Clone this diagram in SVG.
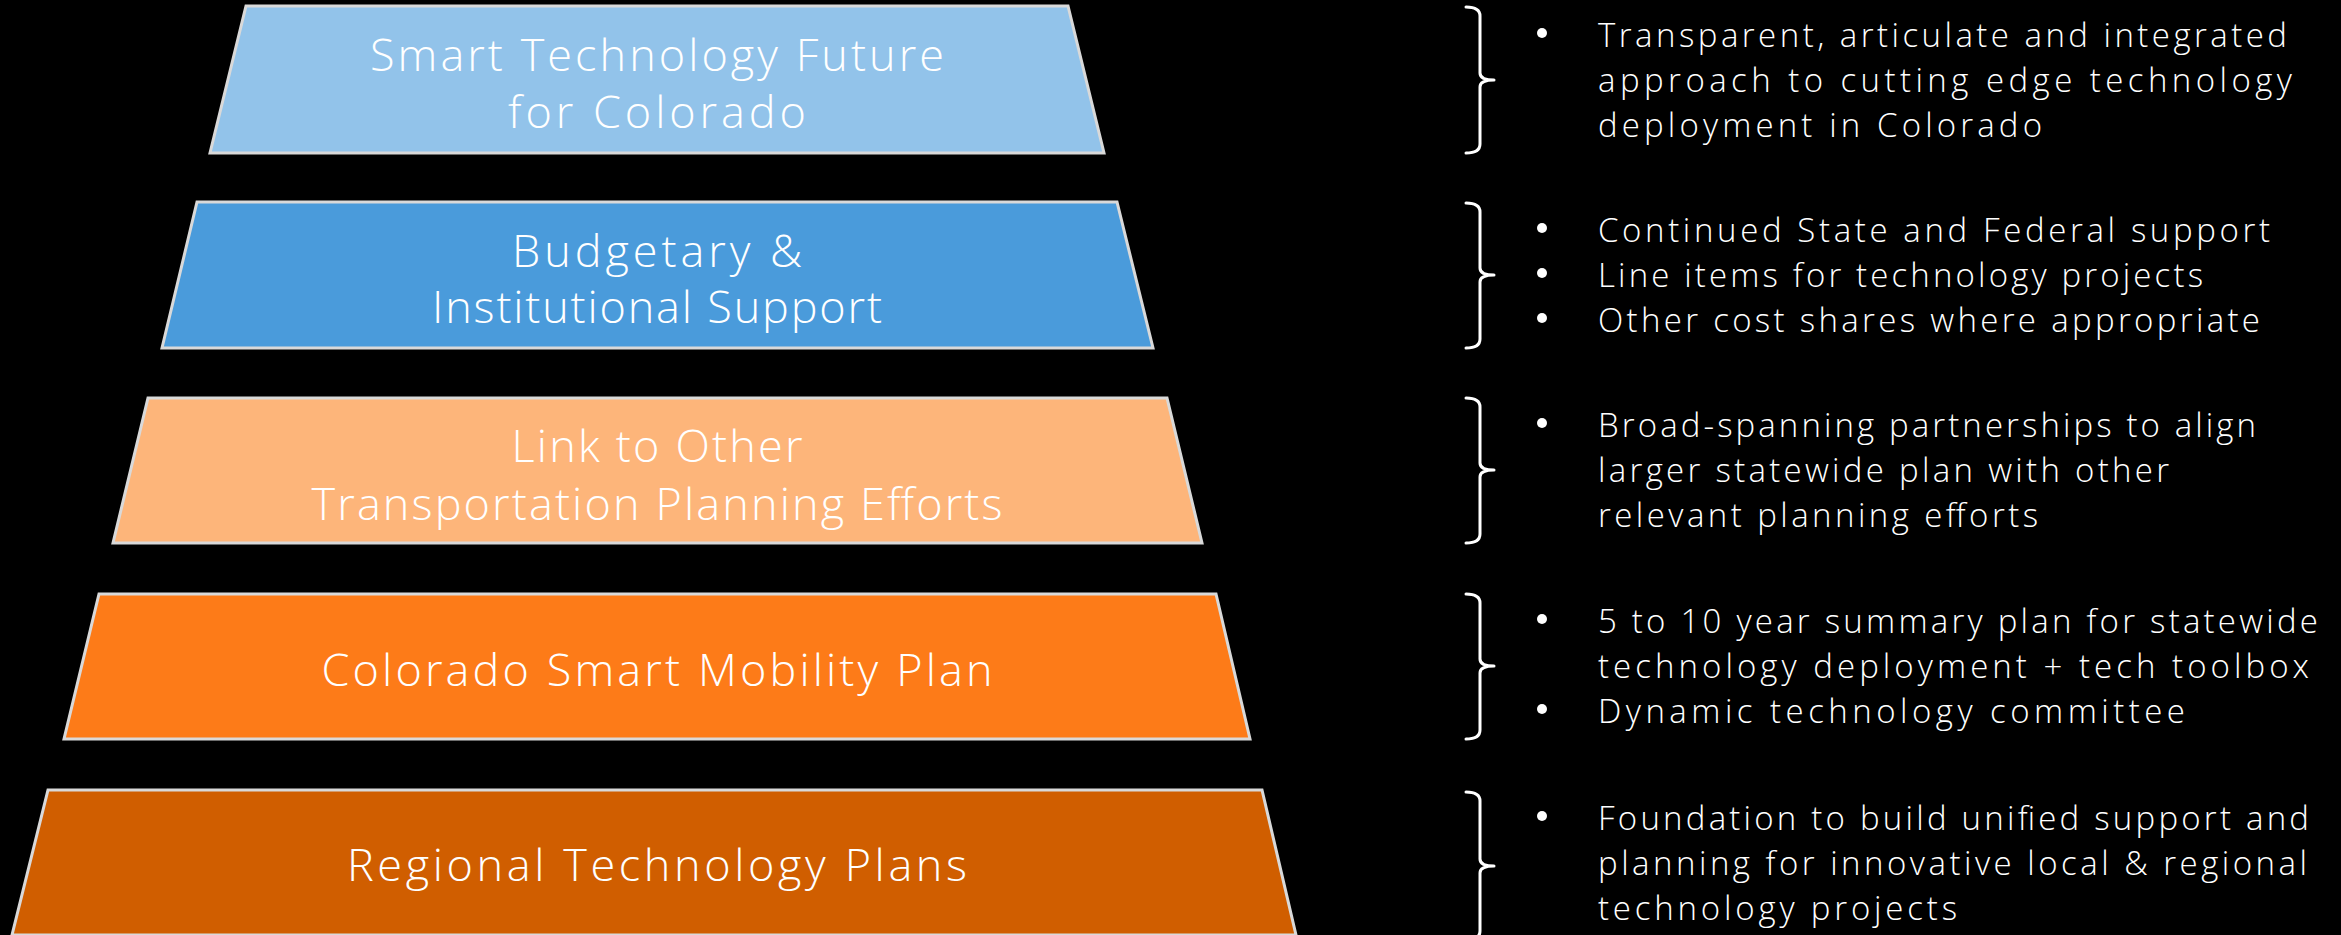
<svg xmlns="http://www.w3.org/2000/svg" width="2341" height="935" viewBox="0 0 2341 935">
<style>
.tier{stroke:#d9d9d9;stroke-width:3;stroke-linejoin:miter}
.lbl{font-family:"Open Sans","Liberation Sans",sans-serif;font-weight:300;font-size:45px;fill:#ffffff;text-anchor:middle}
.txt{font-family:"Open Sans","Liberation Sans",sans-serif;font-weight:300;font-size:33px;fill:#ffffff}
.brace{fill:none;stroke:#ffffff;stroke-width:3;stroke-linecap:round;stroke-linejoin:round}
.dot{fill:#ffffff}
</style>
<rect x="0" y="0" width="2341" height="935" fill="#000000"/>
<g id="tier1">
<polygon class="tier" fill="#92c3ea" points="246,6 1068,6 1104,153 210,153"/>
<text class="lbl" x="657" y="71" textLength="574">Smart Technology Future</text>
<text class="lbl" x="657" y="128" textLength="298">for Colorado</text>
</g>
<g id="tier2">
<polygon class="tier" fill="#4a9bdb" points="197,202 1117,202 1153,348 162,348"/>
<text class="lbl" x="657" y="267" textLength="290">Budgetary &amp;</text>
<text class="lbl" x="657" y="323" textLength="450">Institutional Support</text>
</g>
<g id="tier3">
<polygon class="tier" fill="#fdb57a" points="148,398 1167,398 1202,543 113,543"/>
<text class="lbl" x="657" y="462" textLength="291">Link to Other</text>
<text class="lbl" x="657" y="520" textLength="691">Transportation Planning Efforts</text>
</g>
<g id="tier4">
<polygon class="tier" fill="#fd7b18" points="99,594 1216,594 1250,739 64,739"/>
<text class="lbl" x="657" y="686" textLength="671">Colorado Smart Mobility Plan</text>
</g>
<g id="tier5">
<polygon class="tier" fill="#d05e00" points="48,790 1262,790 1296,935 12,935"/>
<text class="lbl" x="657" y="881" textLength="620">Regional Technology Plans</text>
</g>
<g id="connectors">
<path class="brace" d="M1466,7 Q1480,7 1480,16 L1480,73 Q1480,80 1494,80 Q1480,80 1480,87 L1480,144 Q1480,153 1466,153"/>
<path class="brace" d="M1466,203 Q1480,203 1480,212 L1480,268 Q1480,275 1494,275 Q1480,275 1480,282 L1480,339 Q1480,348 1466,348"/>
<path class="brace" d="M1466,398 Q1480,398 1480,407 L1480,463 Q1480,470 1494,470 Q1480,470 1480,477 L1480,534 Q1480,543 1466,543"/>
<path class="brace" d="M1466,594 Q1480,594 1480,603 L1480,659 Q1480,666 1494,666 Q1480,666 1480,673 L1480,730 Q1480,739 1466,739"/>
<path class="brace" d="M1466,792 Q1480,792 1480,801 L1480,859 Q1480,866 1494,866 Q1480,866 1480,873 L1480,931 Q1480,940 1466,940"/>
</g>
<g id="notes1">
<circle class="dot" cx="1542" cy="33" r="5"/>
<text class="txt" x="1598" y="47" textLength="689">Transparent, articulate and integrated</text>
<text class="txt" x="1598" y="92" textLength="694">approach to cutting edge technology</text>
<text class="txt" x="1598" y="137" textLength="444">deployment in Colorado</text>
</g>
<g id="notes2">
<circle class="dot" cx="1542" cy="228" r="5"/>
<circle class="dot" cx="1542" cy="273" r="5"/>
<circle class="dot" cx="1542" cy="318" r="5"/>
<text class="txt" x="1598" y="242" textLength="672">Continued State and Federal support</text>
<text class="txt" x="1598" y="287" textLength="605">Line items for technology projects</text>
<text class="txt" x="1598" y="332" textLength="662">Other cost shares where appropriate</text>
</g>
<g id="notes3">
<circle class="dot" cx="1542" cy="423" r="5"/>
<text class="txt" x="1598" y="437" textLength="658">Broad-spanning partnerships to align</text>
<text class="txt" x="1598" y="482" textLength="571">larger statewide plan with other</text>
<text class="txt" x="1598" y="527" textLength="440">relevant planning efforts</text>
</g>
<g id="notes4">
<circle class="dot" cx="1542" cy="619" r="5"/>
<circle class="dot" cx="1542" cy="709" r="5"/>
<text class="txt" x="1598" y="633" textLength="720">5 to 10 year summary plan for statewide</text>
<text class="txt" x="1598" y="678" textLength="711">technology deployment + tech toolbox</text>
<text class="txt" x="1598" y="723" textLength="587">Dynamic technology committee</text>
</g>
<g id="notes5">
<circle class="dot" cx="1542" cy="816" r="5"/>
<text class="txt" x="1598" y="830" textLength="711">Foundation to build unified support and</text>
<text class="txt" x="1598" y="875" textLength="709">planning for innovative local &amp; regional</text>
<text class="txt" x="1598" y="920" textLength="359">technology projects</text>
</g>
</svg>
